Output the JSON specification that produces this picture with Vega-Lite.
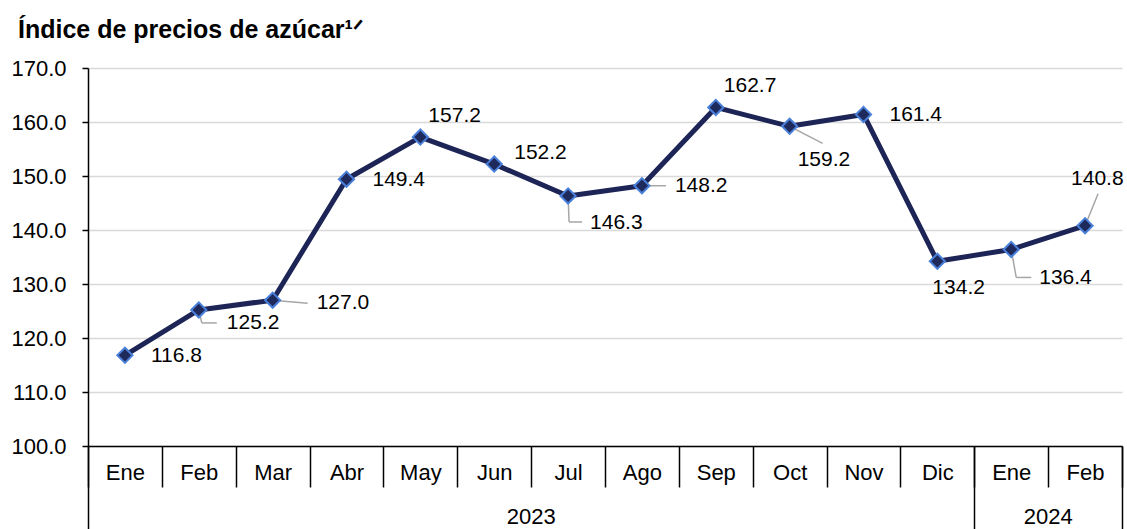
{
  "$schema": "https://vega.github.io/schema/vega-lite/v6.json",
  "width": 1034,
  "height": 378,
  "autosize": {"type": "none"},
  "padding": {"left": 88, "top": 68, "right": 5, "bottom": 83},
  "background": "white",
  "title": {
    "text": "Índice de precios de azúcar¹ᐟ",
    "anchor": "start",
    "frame": "group",
    "dx": -70,
    "offset": 14,
    "font": "Liberation Sans",
    "fontSize": 25,
    "fontWeight": "bold",
    "color": "black"
  },
  "data": {
    "values": [
      {"periodo": "Ene 2023", "valor": 116.8},
      {"periodo": "Feb 2023", "valor": 125.2},
      {"periodo": "Mar 2023", "valor": 127.0},
      {"periodo": "Abr 2023", "valor": 149.4},
      {"periodo": "May 2023", "valor": 157.2},
      {"periodo": "Jun 2023", "valor": 152.2},
      {"periodo": "Jul 2023", "valor": 146.3},
      {"periodo": "Ago 2023", "valor": 148.2},
      {"periodo": "Sep 2023", "valor": 162.7},
      {"periodo": "Oct 2023", "valor": 159.2},
      {"periodo": "Nov 2023", "valor": 161.4},
      {"periodo": "Dic 2023", "valor": 134.2},
      {"periodo": "Ene 2024", "valor": 136.4},
      {"periodo": "Feb 2024", "valor": 140.8}
    ]
  },
  "encoding": {
    "x": {
      "field": "periodo", "type": "ordinal",
      "scale": {"domain": ["Ene 2023","Feb 2023","Mar 2023","Abr 2023","May 2023","Jun 2023","Jul 2023","Ago 2023","Sep 2023","Oct 2023","Nov 2023","Dic 2023","Ene 2024","Feb 2024"], "paddingInner": 0, "paddingOuter": 0},
      "axis": null
    },
    "y": {
      "field": "valor", "type": "quantitative",
      "scale": {"domain": [100, 170], "nice": false, "zero": false},
      "axis": {
        "values": [100, 110, 120, 130, 140, 150, 160, 170],
        "format": ".1f",
        "title": null,
        "grid": true,
        "gridColor": "#d9d9d9",
        "gridWidth": 1.5,
        "domainColor": "black",
        "domainWidth": 1.5,
        "tickColor": "black",
        "tickWidth": 1.5,
        "tickSize": 6,
        "labelPadding": 16,
        "labelFont": "Liberation Sans",
        "labelFontSize": 22,
        "labelColor": "black"
      }
    }
  },
  "layer": [
    {
      "transform": [{"filter": {"field": "periodo", "equal": "Feb 2023"}}],
      "mark": {"type": "rule", "color": "#a6a6a6", "strokeWidth": 1.5, "x2Offset": 3, "y2Offset": 13},
      "encoding": {
        "x": {
          "field": "periodo", "type": "ordinal", "bandPosition": 0.5,
          "scale": {"domain": ["Ene 2023","Feb 2023","Mar 2023","Abr 2023","May 2023","Jun 2023","Jul 2023","Ago 2023","Sep 2023","Oct 2023","Nov 2023","Dic 2023","Ene 2024","Feb 2024"], "paddingInner": 0, "paddingOuter": 0},
          "axis": {"orient": "bottom", "values": ["Ene 2023", "Ene 2024"], "bandPosition": 0, "tickSize": 83, "tickColor": "black", "tickWidth": 1.5, "labels": false, "domain": false, "grid": false, "title": null}
        },
        "x2": {"field": "periodo", "bandPosition": 0.5},
        "y2": {"field": "valor"}
      }
    },
    {
      "transform": [{"filter": {"field": "periodo", "equal": "Feb 2023"}}],
      "mark": {"type": "rule", "color": "#a6a6a6", "strokeWidth": 1.5, "xOffset": 3, "yOffset": 13, "x2Offset": 18, "y2Offset": 13},
      "encoding": {
        "x": {
          "field": "periodo", "type": "ordinal", "bandPosition": 0.5,
          "scale": {"domain": ["Ene 2023","Feb 2023","Mar 2023","Abr 2023","May 2023","Jun 2023","Jul 2023","Ago 2023","Sep 2023","Oct 2023","Nov 2023","Dic 2023","Ene 2024","Feb 2024"], "paddingInner": 0, "paddingOuter": 0},
          "axis": {"orient": "bottom", "values": ["Feb 2024"], "bandPosition": 1, "tickSize": 83, "tickColor": "black", "tickWidth": 1.5, "labels": false, "domain": false, "grid": false, "title": null}
        },
        "x2": {"field": "periodo", "bandPosition": 0.5},
        "y2": {"field": "valor"}
      }
    },
    {
      "transform": [{"filter": {"field": "periodo", "equal": "Mar 2023"}}],
      "mark": {"type": "rule", "color": "#a6a6a6", "strokeWidth": 1.5, "x2Offset": 35, "y2Offset": 3},
      "encoding": {"x": {"field": "periodo", "type": "ordinal", "bandPosition": 0.5}, "x2": {"field": "periodo", "bandPosition": 0.5}, "y2": {"field": "valor"}}
    },
    {
      "transform": [{"filter": {"field": "periodo", "equal": "Jul 2023"}}],
      "mark": {"type": "rule", "color": "#a6a6a6", "strokeWidth": 1.5, "x2Offset": 1, "y2Offset": 26},
      "encoding": {"x": {"field": "periodo", "type": "ordinal", "bandPosition": 0.5}, "x2": {"field": "periodo", "bandPosition": 0.5}, "y2": {"field": "valor"}}
    },
    {
      "transform": [{"filter": {"field": "periodo", "equal": "Jul 2023"}}],
      "mark": {"type": "rule", "color": "#a6a6a6", "strokeWidth": 1.5, "xOffset": 1, "yOffset": 26, "x2Offset": 14, "y2Offset": 26},
      "encoding": {"x": {"field": "periodo", "type": "ordinal", "bandPosition": 0.5}, "x2": {"field": "periodo", "bandPosition": 0.5}, "y2": {"field": "valor"}}
    },
    {
      "transform": [{"filter": {"field": "periodo", "equal": "Ago 2023"}}],
      "mark": {"type": "rule", "color": "#a6a6a6", "strokeWidth": 1.5, "x2Offset": 24, "y2Offset": 0},
      "encoding": {"x": {"field": "periodo", "type": "ordinal", "bandPosition": 0.5}, "x2": {"field": "periodo", "bandPosition": 0.5}, "y2": {"field": "valor"}}
    },
    {
      "transform": [{"filter": {"field": "periodo", "equal": "Oct 2023"}}],
      "mark": {"type": "rule", "color": "#a6a6a6", "strokeWidth": 1.5, "x2Offset": 33, "y2Offset": 17},
      "encoding": {"x": {"field": "periodo", "type": "ordinal", "bandPosition": 0.5}, "x2": {"field": "periodo", "bandPosition": 0.5}, "y2": {"field": "valor"}}
    },
    {
      "transform": [{"filter": {"field": "periodo", "equal": "Ene 2024"}}],
      "mark": {"type": "rule", "color": "#a6a6a6", "strokeWidth": 1.5, "x2Offset": 5, "y2Offset": 28},
      "encoding": {"x": {"field": "periodo", "type": "ordinal", "bandPosition": 0.5}, "x2": {"field": "periodo", "bandPosition": 0.5}, "y2": {"field": "valor"}}
    },
    {
      "transform": [{"filter": {"field": "periodo", "equal": "Ene 2024"}}],
      "mark": {"type": "rule", "color": "#a6a6a6", "strokeWidth": 1.5, "xOffset": 5, "yOffset": 28, "x2Offset": 20, "y2Offset": 28},
      "encoding": {"x": {"field": "periodo", "type": "ordinal", "bandPosition": 0.5}, "x2": {"field": "periodo", "bandPosition": 0.5}, "y2": {"field": "valor"}}
    },
    {
      "transform": [{"filter": {"field": "periodo", "equal": "Feb 2024"}}],
      "mark": {"type": "rule", "color": "#a6a6a6", "strokeWidth": 1.5, "x2Offset": 13, "y2Offset": -32},
      "encoding": {"x": {"field": "periodo", "type": "ordinal", "bandPosition": 0.5}, "x2": {"field": "periodo", "bandPosition": 0.5}, "y2": {"field": "valor"}}
    },
    {
      "mark": {"type": "line", "color": "#1d2456", "strokeWidth": 5, "strokeJoin": "round"},
      "encoding": {
        "x": {
          "field": "periodo", "type": "ordinal",
          "scale": {"domain": ["Ene 2023","Feb 2023","Mar 2023","Abr 2023","May 2023","Jun 2023","Jul 2023","Ago 2023","Sep 2023","Oct 2023","Nov 2023","Dic 2023","Ene 2024","Feb 2024"], "paddingInner": 0, "paddingOuter": 0},
          "axis": {
            "orient": "bottom", "tickBand": "extent", "tickSize": 41, "tickColor": "black", "tickWidth": 1.5,
            "domainColor": "black", "domainWidth": 1.5, "grid": false,
            "labelExpr": "isString(datum.value) ? slice(datum.value, 0, 3) : ''", "labelFont": "Liberation Sans", "labelFontSize": 22, "labelColor": "black",
            "labelPadding": -15, "labelBaseline": "middle", "labelAngle": 0, "labelOverlap": false, "title": null
          }
        }
      }
    },
    {
      "mark": {"type": "point", "shape": "diamond", "size": 230, "filled": true, "fill": "#1f2a5c", "stroke": "#4a80d9", "strokeWidth": 2, "opacity": 1},
      "encoding": {
        "x": {
          "field": "periodo", "type": "ordinal",
          "scale": {"domain": ["Ene 2023","Feb 2023","Mar 2023","Abr 2023","May 2023","Jun 2023","Jul 2023","Ago 2023","Sep 2023","Oct 2023","Nov 2023","Dic 2023","Ene 2024","Feb 2024"], "paddingInner": 0, "paddingOuter": 0},
          "axis": {
            "orient": "bottom", "values": ["Jun 2023", "Ene 2024"], "labelOffset": 37, "ticks": false, "tickSize": 0, "domain": false, "grid": false,
            "labelExpr": "isString(datum.value) ? slice(datum.value, 4) : ''", "labelFont": "Liberation Sans", "labelFontSize": 22, "labelColor": "black",
            "labelPadding": 70, "labelBaseline": "middle", "labelAngle": 0, "labelOverlap": false, "title": null
          }
        }
      }
    },
    {
      "transform": [{"filter": {"field": "periodo", "oneOf": ["Ene 2023", "Abr 2023", "Nov 2023"]}}],
      "mark": {"type": "text", "align": "left", "baseline": "middle", "dx": 26, "dy": 1, "font": "Liberation Sans", "fontSize": 21, "color": "black"},
      "encoding": {"text": {"field": "valor", "type": "quantitative", "format": ".1f"}}
    },
    {
      "transform": [{"filter": {"field": "periodo", "equal": "Feb 2023"}}],
      "mark": {"type": "text", "align": "left", "baseline": "middle", "dx": 28, "dy": 13, "font": "Liberation Sans", "fontSize": 21, "color": "black"},
      "encoding": {"text": {"field": "valor", "type": "quantitative", "format": ".1f"}}
    },
    {
      "transform": [{"filter": {"field": "periodo", "equal": "Mar 2023"}}],
      "mark": {"type": "text", "align": "left", "baseline": "middle", "dx": 44, "dy": 3, "font": "Liberation Sans", "fontSize": 21, "color": "black"},
      "encoding": {"text": {"field": "valor", "type": "quantitative", "format": ".1f"}}
    },
    {
      "transform": [{"filter": {"field": "periodo", "oneOf": ["May 2023", "Sep 2023"]}}],
      "mark": {"type": "text", "align": "left", "baseline": "middle", "dx": 8, "dy": -21, "font": "Liberation Sans", "fontSize": 21, "color": "black"},
      "encoding": {"text": {"field": "valor", "type": "quantitative", "format": ".1f"}}
    },
    {
      "transform": [{"filter": {"field": "periodo", "equal": "Jun 2023"}}],
      "mark": {"type": "text", "align": "left", "baseline": "middle", "dx": 20, "dy": -11, "font": "Liberation Sans", "fontSize": 21, "color": "black"},
      "encoding": {"text": {"field": "valor", "type": "quantitative", "format": ".1f"}}
    },
    {
      "transform": [{"filter": {"field": "periodo", "equal": "Jul 2023"}}],
      "mark": {"type": "text", "align": "left", "baseline": "middle", "dx": 22, "dy": 27, "font": "Liberation Sans", "fontSize": 21, "color": "black"},
      "encoding": {"text": {"field": "valor", "type": "quantitative", "format": ".1f"}}
    },
    {
      "transform": [{"filter": {"field": "periodo", "equal": "Ago 2023"}}],
      "mark": {"type": "text", "align": "left", "baseline": "middle", "dx": 33, "dy": 0, "font": "Liberation Sans", "fontSize": 21, "color": "black"},
      "encoding": {"text": {"field": "valor", "type": "quantitative", "format": ".1f"}}
    },
    {
      "transform": [{"filter": {"field": "periodo", "equal": "Oct 2023"}}],
      "mark": {"type": "text", "align": "left", "baseline": "middle", "dx": 8, "dy": 34, "font": "Liberation Sans", "fontSize": 21, "color": "black"},
      "encoding": {"text": {"field": "valor", "type": "quantitative", "format": ".1f"}}
    },
    {
      "transform": [{"filter": {"field": "periodo", "equal": "Dic 2023"}}],
      "mark": {"type": "text", "align": "left", "baseline": "middle", "dx": -5, "dy": 27, "font": "Liberation Sans", "fontSize": 21, "color": "black"},
      "encoding": {"text": {"field": "valor", "type": "quantitative", "format": ".1f"}}
    },
    {
      "transform": [{"filter": {"field": "periodo", "equal": "Ene 2024"}}],
      "mark": {"type": "text", "align": "left", "baseline": "middle", "dx": 28, "dy": 29, "font": "Liberation Sans", "fontSize": 21, "color": "black"},
      "encoding": {"text": {"field": "valor", "type": "quantitative", "format": ".1f"}}
    },
    {
      "transform": [{"filter": {"field": "periodo", "equal": "Feb 2024"}}],
      "mark": {"type": "text", "align": "left", "baseline": "middle", "dx": -14, "dy": -47, "font": "Liberation Sans", "fontSize": 21, "color": "black"},
      "encoding": {"text": {"field": "valor", "type": "quantitative", "format": ".1f"}}
    }
  ],
  "resolve": {"axis": {"x": "independent"}},
  "config": {"view": {"stroke": null}}
}
